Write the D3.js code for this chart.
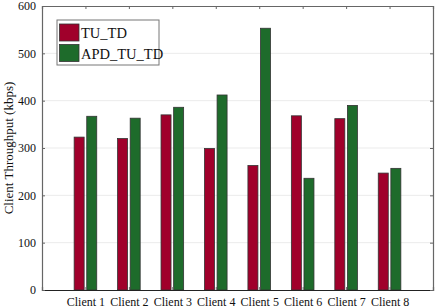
<!doctype html>
<html lang="en">
	<head>
		<meta charset="utf-8" />
		<title>Client Throughput</title>
		<script src="https://cdn.jsdelivr.net/npm/d3@7"></script>
		<style>
			body { margin: 0; background: #fff; }
			svg { display: block; }
			svg text { font-family: "Liberation Serif", "Times New Roman", "DejaVu Serif", serif; }
		</style>
	</head>
	<body>
		<div id="chart"></div>
		<script>
			const CLIENTS = ["Client 1", "Client 2", "Client 3", "Client 4", "Client 5", "Client 6", "Client 7", "Client 8"];
			const TU_TD = [323, 320, 370, 299, 263, 368, 362, 247];
			const APD_TU_TD = [367, 363, 386, 412, 553, 236, 390, 257];
			const SERIES_NAMES = ["TU_TD", "APD_TU_TD"];
			const Y_TICKS = [0, 100, 200, 300, 400, 500, 600];

			const W = 436, H = 308;
			const MARGIN = { LEFT: 42, RIGHT: 3, TOP: 6, BOTTOM: 18 };
			const COLORS = ["#a0002b", "#1e6b2b"];
			const AXIS = "#666";

			const svg = d3.select("#chart").append("svg").attr("width", W).attr("height", H);

			const x = d3.scaleLinear().domain([0, CLIENTS.length + 1]).range([MARGIN.LEFT, W - MARGIN.RIGHT]);
			const y = d3.scaleLinear().domain([0, 600]).range([H - MARGIN.BOTTOM, MARGIN.TOP]);
			const barW = 10, gap = 2.6;

			// gridlines
			svg.append("g")
				.selectAll("line")
				.data(Y_TICKS.slice(1, -1))
				.join("line")
				.attr("x1", x(0)).attr("x2", x(9))
				.attr("y1", (d) => y(d)).attr("y2", (d) => y(d))
				.attr("stroke", "#ebebeb").attr("stroke-width", 1);

			// bars
			const series = [TU_TD, APD_TU_TD];
			series.forEach((vals, s) => {
				svg.append("g")
					.selectAll("rect")
					.data(vals)
					.join("rect")
					.attr("x", (d, i) => (s === 0 ? x(i + 1) - gap / 2 - barW : x(i + 1) + gap / 2))
					.attr("y", (d) => y(d))
					.attr("width", barW)
					.attr("height", (d) => y(0) - y(d))
					.attr("fill", COLORS[s])
					.attr("stroke", "#333")
					.attr("stroke-width", 0.8);
			});

			// axes (box with inward ticks)
			const axisB = d3.axisBottom(x).tickValues(d3.range(1, 9)).tickSize(-3).tickFormat((d) => CLIENTS[d - 1]).tickPadding(7);
			const axisT = d3.axisTop(x).tickValues(d3.range(1, 9)).tickSize(-3).tickFormat("");
			const axisL = d3.axisLeft(y).tickValues(Y_TICKS).tickSize(-3).tickPadding(6);
			const axisR = d3.axisRight(y).tickValues(Y_TICKS).tickSize(-3).tickFormat("");

			const styleAxis = (g) => {
				g.attr("font-family", null).attr("font-size", null);
				g.select(".domain").attr("stroke", AXIS).attr("stroke-width", 1.2);
				g.selectAll(".tick line").attr("stroke", AXIS);
				g.selectAll("text").attr("fill", "#111").style("font-size", "12px");
			};
			svg.append("g").attr("transform", `translate(0,${y(0)})`).call(axisB).call(styleAxis)
				.select(".domain").attr("stroke", "#222");
			svg.append("g").attr("transform", `translate(0,${y(600)})`).call(axisT).call(styleAxis);
			svg.append("g").attr("transform", `translate(${x(0)},0)`).call(axisL).call(styleAxis);
			svg.append("g").attr("transform", `translate(${x(9)},0)`).call(axisR).call(styleAxis);

			// y label
			svg.append("text")
				.attr("transform", `translate(13,${(y(0) + y(600)) / 2}) rotate(-90)`)
				.attr("text-anchor", "middle")
				.style("font-size", "13px")
				.attr("fill", "#111")
				.text("Client Throughput (kbps)");

			// legend
			const lg = svg.append("g").attr("transform", "translate(57,20)");
			lg.append("rect").attr("width", 102).attr("height", 45).attr("fill", "#fff").attr("stroke", "#777").attr("stroke-width", 1);
			SERIES_NAMES.forEach((name, i) => {
				lg.append("rect").attr("x", 2.5).attr("y", 4 + i * 20.5).attr("width", 19.5).attr("height", 17)
					.attr("fill", COLORS[i]).attr("stroke", "#333").attr("stroke-width", 0.8);
				lg.append("text").attr("x", 24).attr("y", 18 + i * 20.5).style("font-size", "14.5px").attr("fill", "#111").text(name);
			});
		</script>
	</body>
</html>
